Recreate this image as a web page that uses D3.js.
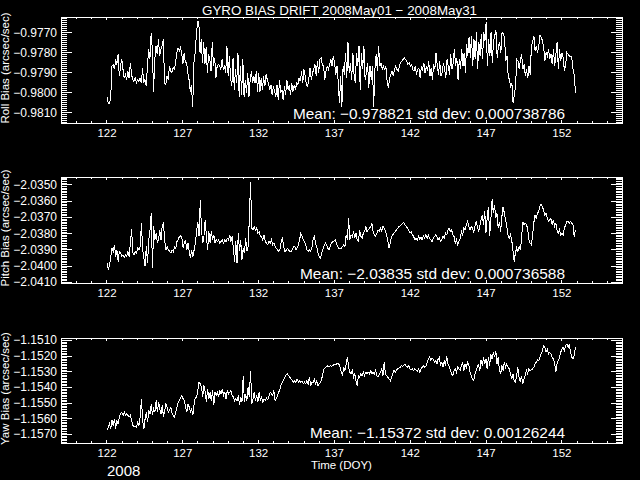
<!DOCTYPE html>
<html><head><meta charset="utf-8">
<script src="https://cdn.jsdelivr.net/npm/d3@7"></script>
<style>body{margin:0;background:#000;}svg{display:block;}</style>
</head><body><svg id="c" width="640" height="480"></svg>
<script>
const title = "GYRO BIAS DRIFT 2008May01 \u2212 2008May31";
const xTicks = [122, 127, 132, 137, 142, 147, 152];
const xDomain = [119, 156];
const tStart = 122.04, tEnd = 152.93;
const yearLabel = "2008";
const xTitle = "Time (DOY)";

const rollBias = [-0.98022,-0.98059,-0.98056,-0.98022,-0.97870,-0.97861,-0.97886,-0.97836,-0.97861,-0.97810,-0.97920,-0.97870,-0.97832,-0.97886,-0.97929,-0.97912,-0.97937,-0.97895,-0.97929,-0.97853,-0.97912,-0.97937,-0.97946,-0.97929,-0.97954,-0.97937,-0.97946,-0.97929,-0.97954,-0.97878,-0.97954,-0.97937,-0.97971,-0.97870,-0.97785,-0.97836,-0.97705,-0.97785,-0.97997,-0.97836,-0.97768,-0.97810,-0.97734,-0.97819,-0.97785,-0.97768,-0.97734,-0.97954,-0.97963,-0.97920,-0.97937,-0.97870,-0.97895,-0.97903,-0.97878,-0.97886,-0.97853,-0.97802,-0.97781,-0.97793,-0.97776,-0.97802,-0.97861,-0.97802,-0.97853,-0.97853,-0.97903,-0.97937,-0.97997,-0.97963,-0.98073,-0.97853,-0.97802,-0.97717,-0.97646,-0.97649,-0.97802,-0.97734,-0.97853,-0.97751,-0.97861,-0.97776,-0.97903,-0.97810,-0.97836,-0.97895,-0.97751,-0.97870,-0.97827,-0.97929,-0.97870,-0.97861,-0.97870,-0.97886,-0.97836,-0.97886,-0.97870,-0.97903,-0.97768,-0.97920,-0.97819,-0.97929,-0.97971,-0.97827,-0.97988,-0.97886,-0.97954,-0.97802,-0.98022,-0.97870,-0.98014,-0.97836,-0.98022,-0.97937,-0.98005,-0.97903,-0.98022,-0.97937,-0.97895,-0.97954,-0.97920,-0.97954,-0.97895,-0.97997,-0.97903,-0.97997,-0.97929,-0.97988,-0.97920,-0.97971,-0.97912,-0.97937,-0.97954,-0.97988,-0.97963,-0.98014,-0.97971,-0.97997,-0.98022,-0.97963,-0.98039,-0.97937,-0.98005,-0.97988,-0.98039,-0.97971,-0.98014,-0.97937,-0.97988,-0.97963,-0.98014,-0.97954,-0.97997,-0.97963,-0.97988,-0.97954,-0.97963,-0.97929,-0.97946,-0.97895,-0.97954,-0.97886,-0.97920,-0.97963,-0.97971,-0.97929,-0.97878,-0.97937,-0.97903,-0.97886,-0.97861,-0.97920,-0.97844,-0.97903,-0.97836,-0.97827,-0.97861,-0.97870,-0.97937,-0.97895,-0.97870,-0.97886,-0.97861,-0.97836,-0.97870,-0.97819,-0.97853,-0.97912,-0.97870,-0.97946,-0.98056,-0.97920,-0.98073,-0.97870,-0.97912,-0.97802,-0.97929,-0.97751,-0.97903,-0.97853,-0.97937,-0.97802,-0.97920,-0.97954,-0.97802,-0.97870,-0.97768,-0.97988,-0.97802,-0.97886,-0.97768,-0.97937,-0.97903,-0.97853,-0.97980,-0.97870,-0.97937,-0.97870,-0.98073,-0.97886,-0.97810,-0.97895,-0.97768,-0.97870,-0.97853,-0.97886,-0.97870,-0.97886,-0.97870,-0.97946,-0.97980,-0.97929,-0.97912,-0.97895,-0.97920,-0.97886,-0.97870,-0.97886,-0.97895,-0.97870,-0.97853,-0.97844,-0.97836,-0.97827,-0.97836,-0.97844,-0.97861,-0.97853,-0.97870,-0.97861,-0.97886,-0.97895,-0.97870,-0.97912,-0.97886,-0.97878,-0.97929,-0.97870,-0.97886,-0.97853,-0.97903,-0.97870,-0.97895,-0.97844,-0.97920,-0.97878,-0.97937,-0.97861,-0.97886,-0.97802,-0.97870,-0.97912,-0.97844,-0.97920,-0.97903,-0.97853,-0.97886,-0.97929,-0.97836,-0.97870,-0.97912,-0.97810,-0.97886,-0.97853,-0.97785,-0.97870,-0.97827,-0.97937,-0.97836,-0.97886,-0.97785,-0.97870,-0.97802,-0.97903,-0.97759,-0.97819,-0.97725,-0.97827,-0.97717,-0.97870,-0.97734,-0.97836,-0.97700,-0.97886,-0.97751,-0.97819,-0.97708,-0.97836,-0.97700,-0.97742,-0.97649,-0.97870,-0.97734,-0.97819,-0.97700,-0.97853,-0.97742,-0.97717,-0.97692,-0.97827,-0.97768,-0.97751,-0.97802,-0.97700,-0.97708,-0.97725,-0.97844,-0.97819,-0.97920,-0.97937,-0.97971,-0.97954,-0.98056,-0.98014,-0.97971,-0.97836,-0.97844,-0.97886,-0.97836,-0.97810,-0.97886,-0.97861,-0.97920,-0.97886,-0.97929,-0.97870,-0.97912,-0.97768,-0.97751,-0.97717,-0.97793,-0.97768,-0.97802,-0.97768,-0.97717,-0.97725,-0.97742,-0.97776,-0.97844,-0.97802,-0.97819,-0.97785,-0.97836,-0.97810,-0.97861,-0.97785,-0.97870,-0.97810,-0.97751,-0.97886,-0.97785,-0.97844,-0.97802,-0.97827,-0.97895,-0.97861,-0.97802,-0.97810,-0.97819,-0.97819,-0.97827,-0.97886,-0.97912,-0.98002];

const pitchBias = [-2.03984,-2.04025,-2.03994,-2.03943,-2.03892,-2.03912,-2.03871,-2.03943,-2.03902,-2.03974,-2.03912,-2.03922,-2.03943,-2.03933,-2.03947,-2.03933,-2.03943,-2.03912,-2.03943,-2.03861,-2.03776,-2.03922,-2.03933,-2.03912,-2.03922,-2.03892,-2.03902,-2.03882,-2.03739,-2.03902,-2.03953,-2.04004,-2.03882,-2.03984,-2.03841,-2.03780,-2.03678,-2.04014,-2.03759,-2.03841,-2.03800,-2.03861,-2.03841,-2.03780,-2.03841,-2.03749,-2.03739,-2.03851,-2.03902,-2.03882,-2.03902,-2.03912,-2.03922,-2.03902,-2.03912,-2.03882,-2.03892,-2.03851,-2.03841,-2.03820,-2.03816,-2.03831,-2.03892,-2.03861,-2.03841,-2.03902,-2.03861,-2.03912,-2.03953,-2.03902,-2.03943,-2.03902,-2.03861,-2.03790,-2.03729,-2.03820,-2.03596,-2.03780,-2.03861,-2.03820,-2.03718,-2.03820,-2.03902,-2.03790,-2.03861,-2.03790,-2.03841,-2.03810,-2.03861,-2.03841,-2.03851,-2.03841,-2.03861,-2.03851,-2.03841,-2.03861,-2.03841,-2.03851,-2.03831,-2.03841,-2.03810,-2.03851,-2.03820,-2.03892,-2.03974,-2.03851,-2.03984,-2.03800,-2.03912,-2.03841,-2.03963,-2.03892,-2.03922,-2.03831,-2.03912,-2.03882,-2.03718,-2.03484,-2.03769,-2.03780,-2.03759,-2.03780,-2.03769,-2.03800,-2.03790,-2.03820,-2.03820,-2.03841,-2.03810,-2.03851,-2.03861,-2.03871,-2.03851,-2.03861,-2.03841,-2.03871,-2.03861,-2.03882,-2.03892,-2.03902,-2.03912,-2.03902,-2.03851,-2.03831,-2.03882,-2.03912,-2.03906,-2.03892,-2.03902,-2.03912,-2.03912,-2.03902,-2.03882,-2.03882,-2.03902,-2.03892,-2.03871,-2.03841,-2.03800,-2.03820,-2.03841,-2.03851,-2.03871,-2.03902,-2.03912,-2.03902,-2.03912,-2.03892,-2.03841,-2.03820,-2.03861,-2.03886,-2.03922,-2.03943,-2.03953,-2.03922,-2.03902,-2.03878,-2.03861,-2.03871,-2.03892,-2.03902,-2.03882,-2.03861,-2.03851,-2.03851,-2.03841,-2.03861,-2.03882,-2.03892,-2.03892,-2.03892,-2.03882,-2.03871,-2.03886,-2.03810,-2.03841,-2.03708,-2.03841,-2.03810,-2.03820,-2.03790,-2.03831,-2.03800,-2.03841,-2.03851,-2.03780,-2.03820,-2.03831,-2.03800,-2.03790,-2.03759,-2.03790,-2.03780,-2.03769,-2.03759,-2.03739,-2.03790,-2.03810,-2.03820,-2.03800,-2.03780,-2.03790,-2.03769,-2.03790,-2.03759,-2.03769,-2.03790,-2.03810,-2.03851,-2.03892,-2.03861,-2.03820,-2.03810,-2.03800,-2.03790,-2.03780,-2.03769,-2.03759,-2.03755,-2.03749,-2.03739,-2.03735,-2.03749,-2.03759,-2.03769,-2.03780,-2.03800,-2.03790,-2.03810,-2.03820,-2.03841,-2.03831,-2.03841,-2.03820,-2.03837,-2.03825,-2.03841,-2.03816,-2.03831,-2.03810,-2.03831,-2.03810,-2.03831,-2.03841,-2.03851,-2.03831,-2.03820,-2.03810,-2.03820,-2.03841,-2.03831,-2.03851,-2.03841,-2.03820,-2.03831,-2.03800,-2.03810,-2.03780,-2.03769,-2.03790,-2.03780,-2.03810,-2.03820,-2.03861,-2.03841,-2.03871,-2.03851,-2.03831,-2.03790,-2.03810,-2.03769,-2.03780,-2.03749,-2.03729,-2.03759,-2.03780,-2.03759,-2.03769,-2.03800,-2.03759,-2.03729,-2.03759,-2.03790,-2.03759,-2.03718,-2.03688,-2.03749,-2.03667,-2.03800,-2.03708,-2.03637,-2.03820,-2.03718,-2.03592,-2.03678,-2.03627,-2.03708,-2.03678,-2.03769,-2.03729,-2.03790,-2.03698,-2.03637,-2.03678,-2.03718,-2.03759,-2.03810,-2.03831,-2.03810,-2.03841,-2.03902,-2.03974,-2.03922,-2.03892,-2.03912,-2.03882,-2.03902,-2.03841,-2.03729,-2.03749,-2.03739,-2.03749,-2.03769,-2.03841,-2.03861,-2.03871,-2.03820,-2.03739,-2.03688,-2.03708,-2.03678,-2.03667,-2.03637,-2.03620,-2.03637,-2.03657,-2.03688,-2.03678,-2.03708,-2.03729,-2.03718,-2.03708,-2.03749,-2.03718,-2.03759,-2.03739,-2.03780,-2.03800,-2.03780,-2.03810,-2.03800,-2.03810,-2.03769,-2.03749,-2.03729,-2.03725,-2.03739,-2.03729,-2.03739,-2.03749,-2.03820,-2.03780];

const yawBias = [-1.15676,-1.15655,-1.15634,-1.15666,-1.15613,-1.15645,-1.15602,-1.15666,-1.15613,-1.15634,-1.15592,-1.15570,-1.15560,-1.15581,-1.15560,-1.15581,-1.15570,-1.15581,-1.15592,-1.15581,-1.15613,-1.15645,-1.15655,-1.15651,-1.15655,-1.15623,-1.15645,-1.15592,-1.15475,-1.15613,-1.15666,-1.15602,-1.15560,-1.15623,-1.15549,-1.15570,-1.15507,-1.15581,-1.15539,-1.15560,-1.15486,-1.15560,-1.15496,-1.15539,-1.15570,-1.15517,-1.15592,-1.15549,-1.15507,-1.15528,-1.15560,-1.15549,-1.15528,-1.15570,-1.15581,-1.15592,-1.15560,-1.15528,-1.15496,-1.15486,-1.15469,-1.15454,-1.15475,-1.15486,-1.15528,-1.15560,-1.15507,-1.15528,-1.15560,-1.15539,-1.15581,-1.15507,-1.15464,-1.15464,-1.15422,-1.15369,-1.15380,-1.15401,-1.15464,-1.15390,-1.15433,-1.15496,-1.15411,-1.15475,-1.15433,-1.15486,-1.15422,-1.15517,-1.15433,-1.15454,-1.15433,-1.15464,-1.15422,-1.15443,-1.15411,-1.15454,-1.15433,-1.15475,-1.15422,-1.15443,-1.15433,-1.15422,-1.15454,-1.15464,-1.15486,-1.15475,-1.15486,-1.15454,-1.15517,-1.15464,-1.15496,-1.15327,-1.15496,-1.15443,-1.15486,-1.15401,-1.15464,-1.15295,-1.15507,-1.15475,-1.15433,-1.15486,-1.15454,-1.15496,-1.15433,-1.15486,-1.15464,-1.15496,-1.15475,-1.15486,-1.15469,-1.15481,-1.15460,-1.15433,-1.15443,-1.15454,-1.15422,-1.15486,-1.15475,-1.15454,-1.15433,-1.15411,-1.15380,-1.15369,-1.15354,-1.15337,-1.15320,-1.15316,-1.15327,-1.15337,-1.15348,-1.15359,-1.15369,-1.15359,-1.15369,-1.15348,-1.15369,-1.15359,-1.15369,-1.15363,-1.15380,-1.15369,-1.15380,-1.15359,-1.15380,-1.15337,-1.15390,-1.15369,-1.15375,-1.15348,-1.15380,-1.15359,-1.15390,-1.15380,-1.15369,-1.15348,-1.15316,-1.15284,-1.15274,-1.15270,-1.15263,-1.15274,-1.15263,-1.15270,-1.15263,-1.15257,-1.15253,-1.15253,-1.15248,-1.15253,-1.15274,-1.15306,-1.15327,-1.15274,-1.15295,-1.15253,-1.15206,-1.15274,-1.15306,-1.15316,-1.15295,-1.15337,-1.15316,-1.15359,-1.15390,-1.15327,-1.15337,-1.15316,-1.15327,-1.15306,-1.15327,-1.15306,-1.15316,-1.15306,-1.15316,-1.15295,-1.15316,-1.15306,-1.15316,-1.15295,-1.15327,-1.15337,-1.15316,-1.15306,-1.15284,-1.15327,-1.15242,-1.15316,-1.15327,-1.15337,-1.15348,-1.15359,-1.15337,-1.15316,-1.15295,-1.15306,-1.15291,-1.15284,-1.15278,-1.15274,-1.15263,-1.15270,-1.15259,-1.15257,-1.15270,-1.15274,-1.15263,-1.15284,-1.15291,-1.15284,-1.15295,-1.15284,-1.15291,-1.15299,-1.15284,-1.15306,-1.15284,-1.15274,-1.15263,-1.15274,-1.15270,-1.15242,-1.15221,-1.15206,-1.15227,-1.15214,-1.15221,-1.15242,-1.15231,-1.15253,-1.15221,-1.15210,-1.15263,-1.15242,-1.15274,-1.15231,-1.15263,-1.15200,-1.15253,-1.15270,-1.15295,-1.15316,-1.15327,-1.15295,-1.15284,-1.15306,-1.15274,-1.15284,-1.15295,-1.15263,-1.15242,-1.15295,-1.15253,-1.15274,-1.15242,-1.15257,-1.15306,-1.15327,-1.15348,-1.15359,-1.15316,-1.15295,-1.15270,-1.15257,-1.15295,-1.15227,-1.15263,-1.15210,-1.15253,-1.15221,-1.15284,-1.15210,-1.15263,-1.15189,-1.15221,-1.15178,-1.15210,-1.15168,-1.15253,-1.15210,-1.15295,-1.15316,-1.15263,-1.15295,-1.15242,-1.15274,-1.15253,-1.15274,-1.15284,-1.15316,-1.15348,-1.15316,-1.15359,-1.15369,-1.15327,-1.15274,-1.15337,-1.15369,-1.15327,-1.15380,-1.15348,-1.15327,-1.15295,-1.15316,-1.15284,-1.15295,-1.15291,-1.15284,-1.15274,-1.15253,-1.15242,-1.15227,-1.15231,-1.15210,-1.15189,-1.15168,-1.15136,-1.15147,-1.15178,-1.15157,-1.15189,-1.15178,-1.15189,-1.15210,-1.15221,-1.15242,-1.15306,-1.15253,-1.15231,-1.15210,-1.15178,-1.15157,-1.15147,-1.15168,-1.15136,-1.15125,-1.15147,-1.15125,-1.15178,-1.15210,-1.15221,-1.15200,-1.15147];

const rollTicks = [-0.9770, -0.9780, -0.9790, -0.9800, -0.9810];
const pitchTicks = [-2.0350, -2.0360, -2.0370, -2.0380, -2.0390, -2.0400, -2.0410];
const yawTicks = [-1.1510, -1.1520, -1.1530, -1.1540, -1.1550, -1.1560, -1.1570];
const yLabels = ["Roll Bias (arcsec/sec)", "Pitch Bias (arcsec/sec)", "Yaw Bias (arcsec/sec)"];
const statTexts = ["Mean: \u22120.978821 std dev: 0.000738786", "Mean: \u22122.03835 std dev: 0.000736588", "Mean: \u22121.15372 std dev: 0.00126244"];

const panels = [
  {values: rollBias, ticks: rollTicks, domain: [-0.98154, -0.97624], top: 17, bottom: 123, label: yLabels[0], stat: statTexts[0], statY: 119, statX: 293},
  {values: pitchBias, ticks: pitchTicks, domain: [-2.04106, -2.03455], top: 177, bottom: 283, label: yLabels[1], stat: statTexts[1], statY: 279, statX: 300},
  {values: yawBias, ticks: yawTicks, domain: [-1.15757, -1.15087], top: 338, bottom: 443, label: yLabels[2], stat: statTexts[2], statY: 438, statX: 310}
];

const W = 640, H = 480, L = 61, R = 622;
const svg = d3.select("#c");
svg.append("rect").attr("width", W).attr("height", H).attr("fill", "#000");
const FONT = "'Liberation Sans', Arial, sans-serif";

svg.append("text").attr("x", 202).attr("y", 15)
  .attr("textLength", 275).attr("lengthAdjust", "spacingAndGlyphs")
  .attr("fill", "#fff").attr("font-family", FONT).attr("font-size", 13.5).text(title);

const x = d3.scaleLinear().domain(xDomain).range([L, R]);
const minorX = d3.range(xDomain[0], xDomain[1] + 1);

panels.forEach((p, idx) => {
  const y = d3.scaleLinear().domain(p.domain).range([p.bottom, p.top]);
  const g = svg.append("g");
  const lo = Math.ceil(p.domain[0] / 1e-4 - 1e-6), hi = Math.floor(p.domain[1] / 1e-4 + 1e-6);
  const minorY = d3.range(lo, hi + 1).map(k => k * 1e-4);

  const styleAxis = sel => {
    sel.select(".domain").remove();
    sel.selectAll("line").attr("stroke", "#fff").attr("shape-rendering", "crispEdges");
    sel.selectAll("text").attr("fill", "#fff").attr("font-family", FONT);
  };

  g.append("g").attr("transform", `translate(${L},0)`)
    .call(d3.axisLeft(y).tickValues(minorY).tickSize(-6).tickFormat("")).call(styleAxis);
  g.append("g").attr("transform", `translate(${L},0)`)
    .call(d3.axisLeft(y).tickValues(p.ticks).tickSize(-11).tickPadding(4).tickFormat(d3.format(".4f")))
    .call(styleAxis).selectAll("text").attr("font-size", 12);
  g.append("g").attr("transform", `translate(${R},0)`)
    .call(d3.axisRight(y).tickValues(minorY).tickSize(-6).tickFormat("")).call(styleAxis);
  g.append("g").attr("transform", `translate(${R},0)`)
    .call(d3.axisRight(y).tickValues(p.ticks).tickSize(-11).tickFormat("")).call(styleAxis);
  g.append("g").attr("transform", `translate(0,${p.bottom})`)
    .call(d3.axisBottom(x).tickValues(minorX).tickSize(-2).tickFormat("")).call(styleAxis);
  g.append("g").attr("transform", `translate(0,${p.bottom})`)
    .call(d3.axisBottom(x).tickValues(xTicks).tickSize(-3).tickPadding(5.5).tickFormat(d3.format("d")))
    .call(styleAxis).selectAll("text").attr("font-size", 11.5);
  g.append("g").attr("transform", `translate(0,${p.top})`)
    .call(d3.axisTop(x).tickValues(minorX).tickSize(-2).tickFormat("")).call(styleAxis);
  g.append("g").attr("transform", `translate(0,${p.top})`)
    .call(d3.axisTop(x).tickValues(xTicks).tickSize(-3).tickFormat("")).call(styleAxis);

  g.append("rect").attr("x", L + 0.5).attr("y", p.top + 0.5)
    .attr("width", R - L).attr("height", p.bottom - p.top)
    .attr("fill", "none").attr("stroke", "#fff").attr("shape-rendering", "crispEdges");

  const n = p.values.length;
  const times = d3.range(n).map(i => tStart + i * (tEnd - tStart) / (n - 1));
  const line = d3.line().x((d, i) => x(times[i])).y(d => y(d));
  g.append("path").datum(p.values).attr("d", line)
    .attr("fill", "none").attr("stroke", "#fff").attr("stroke-width", 1)
    .attr("shape-rendering", "crispEdges");

  const cy = (p.top + p.bottom) / 2 - 2;
  g.append("text").attr("transform", `translate(9,${cy}) rotate(-90)`)
    .attr("text-anchor", "middle").attr("fill", "#fff").attr("font-family", FONT)
    .attr("font-size", 11.5).text(p.label);

  g.append("text").attr("x", p.statX).attr("y", p.statY)
    .attr("textLength", 565 - p.statX).attr("lengthAdjust", "spacingAndGlyphs")
    .attr("fill", "#fff").attr("font-family", FONT).attr("font-size", 15).text(p.stat);
});

svg.append("text").attr("x", (L + R) / 2).attr("y", 469).attr("text-anchor", "middle")
  .attr("fill", "#fff").attr("font-family", FONT).attr("font-size", 11.5).text(xTitle);
svg.append("text").attr("x", 107).attr("y", 476).attr("fill", "#fff")
  .attr("font-family", FONT).attr("font-size", 15).text(yearLabel);
</script></body></html>
